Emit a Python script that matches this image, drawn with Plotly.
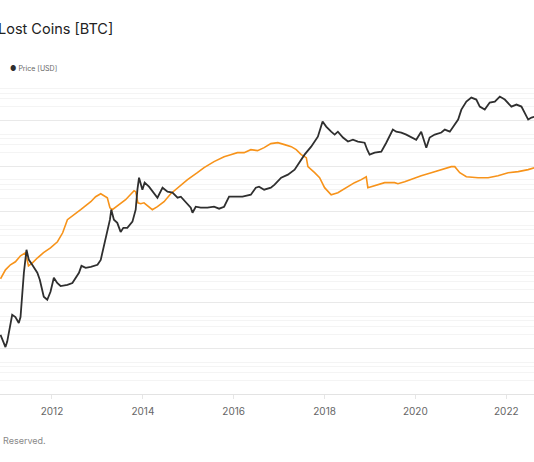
import plotly.graph_objects as go

# price [USD]
price_dates = [
    "2010-11-13", "2010-12-04", "2010-12-23", "2011-01-06", "2011-01-19", "2011-02-01",
    "2011-02-15", "2011-03-13", "2011-04-09", "2011-04-23", "2011-05-07", "2011-05-20",
    "2011-06-10", "2011-06-29", "2011-07-26", "2011-08-22", "2011-09-05", "2011-09-25",
    "2011-10-15", "2011-10-27", "2011-11-24", "2011-12-20", "2012-01-16", "2012-02-12",
    "2012-03-10", "2012-05-04", "2012-06-13", "2012-07-10", "2012-08-05", "2012-08-25",
    "2012-09-28", "2012-11-08", "2013-01-01", "2013-01-27", "2013-02-22", "2013-03-21",
    "2013-04-11", "2013-04-22", "2013-05-13", "2013-06-09", "2013-07-06", "2013-07-28",
    "2013-08-29", "2013-10-09", "2013-11-04", "2013-11-18", "2013-12-01", "2013-12-28",
    "2014-01-15", "2014-02-19", "2014-04-01", "2014-04-28", "2014-06-08", "2014-07-18",
    "2014-08-27", "2014-10-07", "2014-11-02", "2014-12-12", "2015-01-21", "2015-02-04",
    "2015-03-02", "2015-04-11", "2015-06-04", "2015-07-27", "2015-09-06", "2015-10-16",
    "2015-11-25", "2016-01-18", "2016-03-12", "2016-05-18", "2016-06-27", "2016-07-23",
    "2016-09-02", "2016-10-26", "2016-11-25", "2017-01-17", "2017-03-12", "2017-05-05",
    "2017-06-15", "2017-07-24", "2017-09-15", "2017-11-08", "2017-12-16", "2018-01-14",
    "2018-02-23", "2018-03-23", "2018-04-18", "2018-05-29", "2018-07-08", "2018-08-17",
    "2018-09-26", "2018-11-19", "2018-12-10", "2018-12-29", "2019-02-08", "2019-04-02",
    "2019-05-12", "2019-06-08", "2019-07-04", "2019-07-31", "2019-09-10", "2019-10-20",
    "2019-11-29", "2020-01-08", "2020-02-17", "2020-03-16", "2020-03-29", "2020-04-25",
    "2020-06-05", "2020-07-28", "2020-08-25", "2020-10-04", "2020-11-13", "2020-12-10",
    "2021-01-05", "2021-02-14", "2021-03-26", "2021-05-05", "2021-06-02", "2021-07-12",
    "2021-08-21", "2021-10-01", "2021-11-10", "2021-12-20", "2022-02-11", "2022-03-24",
    "2022-05-03", "2022-05-31", "2022-06-26", "2022-07-23", "2022-08-19",
]
price_usd = [
    0.41, 0.29, 0.22, 0.29, 0.45, 0.67,
    1.12, 1.0, 0.74, 1.0, 3.4, 9.4,
    29.9, 18, 14, 10.9, 9.4, 6.6,
    3.95, 2.8, 2.4, 3.6, 7.3, 5.6,
    4.8, 5.1, 5.6, 7.3, 9.4, 13.3,
    12, 12.7, 14, 18, 35, 71,
    137, 227, 137, 117, 74, 91,
    91, 124, 227, 624, 1146, 624,
    889, 726, 536, 416, 690, 564,
    536, 416, 438, 340, 251, 195,
    264, 251, 251, 264, 239, 264,
    438, 438, 438, 484, 690, 726,
    624, 690, 804, 1146, 1334, 1718,
    2576, 3664, 5495, 9100, 19500, 15100,
    11700, 10100, 11700, 8700, 7100, 7800,
    7100, 6700, 4700, 3660, 4050, 4270,
    6700, 9100, 13000, 11700, 11200, 10100,
    8700, 7800, 11700, 7100, 5200, 8700,
    10100, 11200, 13000, 11700, 16700, 21600,
    35700, 53600, 65600, 59300, 41600, 35700,
    50900, 53600, 69000, 59300, 41600, 46000,
    41600, 30700, 21600, 23900, 25100,
]

# lost coins [BTC]
lost_dates = [
    "2010-11-13", "2010-12-23", "2011-02-01", "2011-03-13", "2011-04-23", "2011-06-02",
    "2011-06-26", "2011-07-28", "2011-09-07", "2011-10-25", "2011-12-20", "2012-02-14",
    "2012-03-27", "2012-05-04", "2012-08-19", "2012-11-08", "2012-12-17", "2013-01-27",
    "2013-03-21", "2013-04-11", "2013-04-30", "2013-06-22", "2013-08-15", "2013-10-22",
    "2013-11-04", "2013-11-22", "2013-12-14", "2014-01-10", "2014-02-19", "2014-03-18",
    "2014-04-28", "2014-06-20", "2014-08-13", "2014-10-07", "2014-12-26", "2015-03-15",
    "2015-05-08", "2015-07-27", "2015-10-16", "2015-12-08", "2016-01-31", "2016-03-25",
    "2016-05-18", "2016-07-11", "2016-09-02", "2016-10-26", "2016-12-21", "2017-02-13",
    "2017-04-08", "2017-05-18", "2017-06-27", "2017-08-07", "2017-08-20", "2017-10-13",
    "2017-11-22", "2018-01-01", "2018-02-23", "2018-04-18", "2018-06-24", "2018-08-30",
    "2018-10-23", "2018-12-02", "2018-12-15", "2019-02-07", "2019-04-29", "2019-07-18",
    "2019-08-14", "2019-10-07", "2019-12-26", "2020-02-17", "2020-05-08", "2020-07-28",
    "2020-10-16", "2020-11-13", "2020-12-23", "2021-02-14", "2021-05-19", "2021-08-08",
    "2021-10-27", "2022-01-16", "2022-04-07", "2022-06-26", "2022-08-19",
]
lost_btc = [
    3365, 5309, 6839, 7962, 10800, 12600,
    6501, 7568, 9750, 12600, 16100, 21900,
    34500, 66700, 110700, 165600, 213000, 248000,
    203000, 122000, 110700, 143000, 183000, 289000,
    275000, 157000, 150000, 157000, 129000, 110700,
    129000, 165600, 248000, 337000, 505000, 719000,
    927000, 1256000, 1615000, 1786000, 1977000, 1977000,
    2301000, 2188000, 2547000, 3119000, 3281000, 2965000,
    2679000, 2301000, 1786000, 1535000, 975000, 719000,
    558000, 337000, 236000, 261000, 337000, 434000,
    505000, 587000, 337000, 372000, 434000, 434000,
    412000, 456000, 558000, 618000, 719000, 838000,
    975000, 975000, 719000, 587000, 558000, 558000,
    618000, 719000, 757000, 838000, 927000,
]

# log grid of the left axis: 1..5 per decade
decades = [10 ** k for k in range(1, 9)]
minor_vals = [m * 10 ** k for k in range(1, 8) for m in (2, 3, 4, 5)]

fig = go.Figure()
fig.add_trace(go.Scatter(
    x=lost_dates, y=lost_btc, name="Lost Coins [BTC]", mode="lines",
    line=dict(color="#f7931a", width=1.6), yaxis="y",
))
fig.add_trace(go.Scatter(
    x=price_dates, y=price_usd, name="Price [USD]", mode="lines",
    line=dict(color="#2f2f2f", width=1.8), yaxis="y2",
))

fig.update_layout(
    width=534, height=462,
    margin=dict(l=0, r=0, t=75, b=68),
    paper_bgcolor="white", plot_bgcolor="white",
    showlegend=False,
    font=dict(family="Inter, Noto Sans, sans-serif", color="#555"),
    xaxis=dict(
        type="date",
        range=["2010-11-09", "2022-08-12"],
        tick0="2012-01-01", dtick="M24", tickformat="%Y",
        ticks="outside", ticklen=4, tickcolor="#e6e6e6",
        ticklabelstandoff=4,
        showline=True, linecolor="#e3e3e3", linewidth=1,
        showgrid=False, zeroline=False, automargin=False,
        tickfont=dict(size=10, color="#666"),
    ),
    yaxis=dict(
        type="log", range=[1, 8],
        tickmode="array", tickvals=decades,
        showticklabels=False, ticks="", automargin=False,
        gridcolor="#e9e9e9", gridwidth=1, zeroline=False,
        minor=dict(tickmode="array", tickvals=minor_vals,
                   showgrid=True, gridcolor="#f4f4f4", ticks=""),
    ),
    yaxis2=dict(
        type="log", range=[-1.688, 5.312],
        overlaying="y", side="right", automargin=False,
        showgrid=False, showticklabels=False, zeroline=False,
    ),
)

ph = 462 - 75 - 68  # plot height in px
fig.add_annotation(
    text="Lost Coins [BTC]", xref="paper", yref="paper",
    x=0, y=1 + (75 - 29) / ph, xanchor="left", yanchor="middle", xshift=-4,
    showarrow=False, font=dict(size=14.5, color="#222"),
)
fig.add_annotation(
    text="<span style='color:#2f2f2f'>●</span> Price [USD]", xref="paper", yref="paper",
    x=0, y=1 + (75 - 68) / ph, xanchor="left", yanchor="middle", xshift=8,
    showarrow=False, font=dict(size=7, color="#666"),
)
fig.add_annotation(
    text="Reserved.", xref="paper", yref="paper",
    x=0, y=-(440 - 394) / ph, xanchor="left", yanchor="middle", xshift=1,
    showarrow=False, font=dict(size=9, color="#888"),
)

# drop the default page margin so the chart sits at the window's corner
fig.write_html(
    "out.html",
    config={"displayModeBar": False},
    post_script="document.body.style.margin='0';",
)
